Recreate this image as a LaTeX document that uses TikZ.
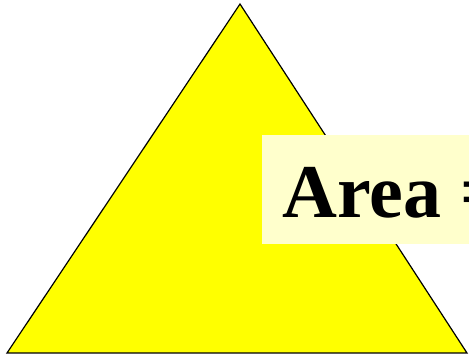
\documentclass[tikz,border=0pt]{standalone}
\usepackage{fontspec}
\setmainfont{Liberation Serif}
\definecolor{triyellow}{RGB}{255,255,0}
\definecolor{boxyellow}{RGB}{255,255,204}
\begin{document}
\begin{tikzpicture}[
  x=1pt, y=-1pt,
  tri/.style={draw=black, fill=triyellow, line width=1.2pt, line join=miter},
  lbl/.style={fill=boxyellow, inner sep=0pt},
  txt/.style={font=\fontsize{76}{90}\selectfont\bfseries, inner sep=0pt, anchor=base west}
]
\useasboundingbox (0,0) rectangle (469,358);
\clip (0,0) rectangle (469,358);
% triangle
\coordinate (top) at (240,4);
\coordinate (bl) at (7,353);
\coordinate (br) at (467,353);
\filldraw[tri] (top) -- (bl) -- (br) -- cycle;
% label box
\fill[lbl] (262,135) rectangle (520,244);
\node[txt] (area) at (282,218) {Area =};
\end{tikzpicture}
\end{document}
